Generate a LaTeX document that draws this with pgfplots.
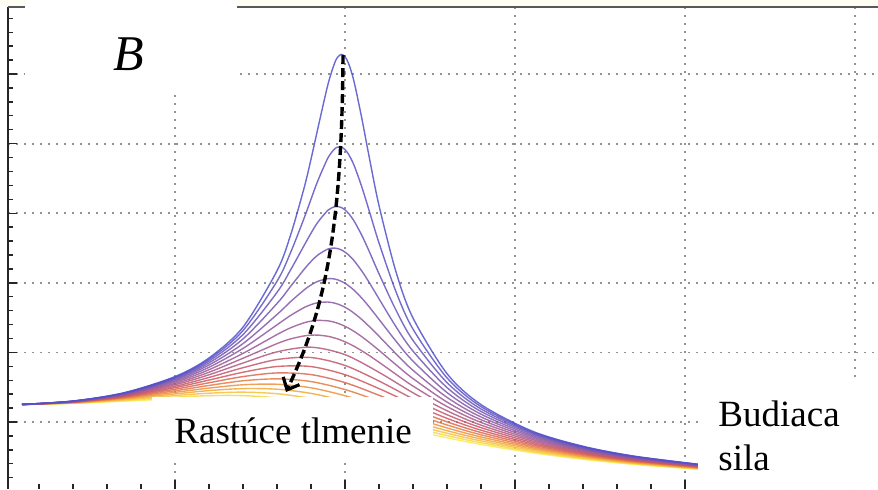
\documentclass[border=0pt]{standalone}
\usepackage{pgfplots}
\pgfplotsset{compat=1.18}
\usepackage{fontspec}
\setmainfont{Liberation Serif}
\usetikzlibrary{arrows.meta}
\definecolor{c0}{RGB}{80,80,205}
\definecolor{c1}{RGB}{92,82,196}
\definecolor{c2}{RGB}{104,84,188}
\definecolor{c3}{RGB}{116,85,180}
\definecolor{c4}{RGB}{128,87,171}
\definecolor{c5}{RGB}{140,88,162}
\definecolor{c6}{RGB}{152,88,152}
\definecolor{c7}{RGB}{166,88,139}
\definecolor{c8}{RGB}{180,88,124}
\definecolor{c9}{RGB}{194,88,108}
\definecolor{c10}{RGB}{208,88,93}
\definecolor{c11}{RGB}{220,100,80}
\definecolor{c12}{RGB}{230,122,68}
\definecolor{c13}{RGB}{238,145,58}
\definecolor{c14}{RGB}{243,168,55}
\definecolor{c15}{RGB}{245,192,60}
\definecolor{c16}{RGB}{247,214,66}
\definecolor{c17}{RGB}{248,235,80}
\begin{document}
\begin{tikzpicture}
\useasboundingbox (-4pt,0pt) rectangle (435pt,244.5pt);
\fill[white] (-4pt,0pt) rectangle (435pt,244.5pt);
\fill[yellow!5] (-4pt,241.6pt) rectangle (435pt,244.5pt);
\begin{axis}[
  scale only axis, width=435pt, height=241pt,
  xmin=0.00882, xmax=2.5676, ymin=0.0299, ymax=5.5701,
  axis line style={draw=none},
  xtick={0.5,1,1.5,2,2.5}, ytick={0.8,1.6,2.4,3.2,4.0,4.8},
  minor xtick={0.1,0.2,...,2.5}, minor ytick={0.16,0.32,...,5.5},
  xticklabels={}, yticklabels={},
  xtick pos=bottom, ytick pos=left, tick align=inside,
  major tick length=4.5pt, minor tick length=2.5pt,
  tick style={black!85, line width=0.7pt},
  grid=major,
  major grid style={gray!85, line width=0.9pt, dash pattern=on 0.9pt off 3.1pt},
  clip=false,
  every axis plot/.append style={line width=0.7pt, smooth, no marks, opacity=0.85},
]
\draw[black!85, line width=0.9pt] (rel axis cs:0,0) -- (rel axis cs:0,1);
\draw[gray!70!black, line width=1pt] (rel axis cs:0,1) -- (rel axis cs:1,1);

\addplot[c17] coordinates {(0.05,1.001) (0.2,1.014) (0.35,1.040) (0.5,1.067) (0.6,1.075) (0.7,1.066) (0.8,1.032) (0.9,0.971) (1.0,0.889) (1.1,0.797) (1.2,0.704) (1.3,0.619) (1.4,0.542) (1.55,0.447) (1.7,0.372) (1.85,0.313) (2.038,0.257)};
\addplot[c16] coordinates {(0.05,1.001) (0.2,1.017) (0.35,1.048) (0.5,1.085) (0.6,1.103) (0.7,1.103) (0.8,1.077) (0.9,1.018) (1.0,0.934) (1.1,0.836) (1.2,0.737) (1.3,0.644) (1.4,0.562) (1.55,0.460) (1.7,0.381) (1.85,0.320) (2.038,0.261)};
\addplot[c15] coordinates {(0.05,1.001) (0.2,1.019) (0.35,1.056) (0.5,1.104) (0.6,1.131) (0.7,1.143) (0.8,1.125) (0.9,1.071) (1.0,0.984) (1.1,0.879) (1.2,0.772) (1.3,0.671) (1.4,0.583) (1.55,0.474) (1.7,0.391) (1.85,0.326) (2.038,0.265)};
\addplot[c14] coordinates {(0.05,1.001) (0.2,1.021) (0.35,1.064) (0.5,1.123) (0.6,1.161) (0.7,1.184) (0.8,1.177) (0.9,1.129) (1.0,1.040) (1.1,0.927) (1.2,0.810) (1.3,0.700) (1.4,0.605) (1.55,0.489) (1.7,0.400) (1.85,0.333) (2.038,0.269)};
\addplot[c13] coordinates {(0.05,1.001) (0.2,1.024) (0.35,1.072) (0.5,1.141) (0.6,1.190) (0.7,1.228) (0.8,1.234) (0.9,1.193) (1.0,1.102) (1.1,0.981) (1.2,0.852) (1.3,0.732) (1.4,0.628) (1.55,0.504) (1.7,0.410) (1.85,0.339) (2.038,0.274)};
\addplot[c12] coordinates {(0.05,1.001) (0.2,1.026) (0.35,1.079) (0.5,1.159) (0.6,1.220) (0.7,1.274) (0.8,1.296) (0.9,1.265) (1.0,1.173) (1.1,1.040) (1.2,0.898) (1.3,0.766) (1.4,0.653) (1.55,0.519) (1.7,0.420) (1.85,0.346) (2.038,0.278)};
\addplot[c11] coordinates {(0.05,1.001) (0.2,1.028) (0.35,1.086) (0.5,1.177) (0.6,1.251) (0.7,1.322) (0.8,1.364) (0.9,1.345) (1.0,1.253) (1.1,1.107) (1.2,0.949) (1.3,0.802) (1.4,0.679) (1.55,0.535) (1.7,0.430) (1.85,0.353) (2.038,0.282)};
\addplot[c10] coordinates {(0.05,1.001) (0.2,1.029) (0.35,1.093) (0.5,1.195) (0.6,1.282) (0.7,1.372) (0.8,1.438) (0.9,1.437) (1.0,1.344) (1.1,1.184) (1.2,1.005) (1.3,0.842) (1.4,0.706) (1.55,0.551) (1.7,0.440) (1.85,0.359) (2.038,0.286)};
\addplot[c9] coordinates {(0.05,1.001) (0.2,1.031) (0.35,1.099) (0.5,1.211) (0.6,1.312) (0.7,1.424) (0.8,1.518) (0.9,1.541) (1.0,1.450) (1.1,1.271) (1.2,1.067) (1.3,0.884) (1.4,0.735) (1.55,0.567) (1.7,0.450) (1.85,0.365) (2.038,0.290)};
\addplot[c8] coordinates {(0.05,1.001) (0.2,1.033) (0.35,1.105) (0.5,1.228) (0.6,1.343) (0.7,1.478) (0.8,1.606) (0.9,1.660) (1.0,1.574) (1.1,1.371) (1.2,1.136) (1.3,0.929) (1.4,0.764) (1.55,0.584) (1.7,0.459) (1.85,0.371) (2.038,0.293)};
\addplot[c7] coordinates {(0.05,1.001) (0.2,1.034) (0.35,1.110) (0.5,1.243) (0.6,1.372) (0.7,1.533) (0.8,1.701) (0.84,1.755) (0.88,1.790) (0.9,1.798) (0.92,1.799) (0.95,1.785) (0.97,1.765) (0.98,1.753) (0.99,1.738) (1.0,1.722) (1.01,1.704) (1.02,1.684) (1.03,1.663) (1.05,1.617) (1.07,1.567) (1.1,1.487) (1.15,1.348) (1.2,1.213) (1.3,0.978) (1.4,0.795) (1.55,0.600) (1.7,0.469) (1.85,0.377) (2.038,0.297)};
\addplot[c6] coordinates {(0.05,1.001) (0.2,1.036) (0.35,1.115) (0.5,1.258) (0.6,1.401) (0.7,1.589) (0.8,1.805) (0.84,1.883) (0.88,1.941) (0.9,1.959) (0.92,1.968) (0.95,1.963) (0.97,1.946) (0.98,1.933) (0.99,1.918) (1.0,1.900) (1.01,1.880) (1.02,1.857) (1.03,1.833) (1.05,1.779) (1.07,1.719) (1.1,1.624) (1.15,1.458) (1.2,1.299) (1.3,1.029) (1.4,0.826) (1.55,0.616) (1.7,0.478) (1.85,0.383) (2.038,0.300)};
\addplot[c5] coordinates {(0.05,1.001) (0.2,1.037) (0.35,1.120) (0.5,1.272) (0.6,1.429) (0.7,1.646) (0.8,1.917) (0.84,2.025) (0.88,2.116) (0.9,2.149) (0.92,2.171) (0.95,2.179) (0.97,2.166) (0.98,2.154) (0.99,2.138) (1.0,2.119) (1.01,2.096) (1.02,2.070) (1.03,2.041) (1.05,1.976) (1.07,1.903) (1.1,1.786) (1.15,1.584) (1.2,1.394) (1.3,1.083) (1.4,0.858) (1.55,0.632) (1.7,0.487) (1.85,0.388) (2.038,0.303)};
\addplot[c4] coordinates {(0.05,1.002) (0.2,1.038) (0.35,1.124) (0.5,1.285) (0.6,1.455) (0.7,1.701) (0.8,2.036) (0.84,2.184) (0.88,2.319) (0.9,2.375) (0.92,2.417) (0.95,2.448) (0.97,2.443) (0.98,2.432) (0.99,2.416) (1.0,2.395) (1.01,2.368) (1.02,2.337) (1.03,2.302) (1.05,2.221) (1.07,2.129) (1.1,1.980) (1.15,1.729) (1.2,1.500) (1.3,1.139) (1.4,0.890) (1.55,0.647) (1.7,0.495) (1.85,0.393) (2.038,0.306)};
\addplot[c3] coordinates {(0.05,1.002) (0.2,1.039) (0.35,1.128) (0.5,1.296) (0.6,1.479) (0.7,1.755) (0.8,2.162) (0.84,2.359) (0.88,2.556) (0.9,2.645) (0.92,2.719) (0.95,2.789) (0.97,2.799) (0.98,2.792) (0.99,2.777) (1.0,2.753) (1.01,2.722) (1.02,2.684) (1.03,2.638) (1.05,2.532) (1.07,2.411) (1.1,2.216) (1.15,1.895) (1.2,1.615) (1.3,1.196) (1.4,0.921) (1.55,0.662) (1.7,0.503) (1.85,0.398) (2.038,0.309)};
\addplot[c2] coordinates {(0.05,1.002) (0.2,1.040) (0.35,1.131) (0.5,1.306) (0.6,1.501) (0.7,1.805) (0.8,2.290) (0.84,2.549) (0.88,2.831) (0.9,2.970) (0.92,3.096) (0.95,3.235) (0.97,3.275) (0.98,3.276) (0.99,3.264) (1.0,3.238) (1.01,3.200) (1.02,3.149) (1.03,3.088) (1.05,2.941) (1.07,2.772) (1.1,2.504) (1.15,2.085) (1.2,1.738) (1.3,1.253) (1.4,0.950) (1.55,0.675) (1.7,0.510) (1.85,0.402) (2.038,0.311)};
\addplot[c1] coordinates {(0.05,1.002) (0.2,1.040) (0.35,1.134) (0.5,1.315) (0.6,1.520) (0.7,1.851) (0.8,2.418) (0.84,2.749) (0.88,3.146) (0.9,3.361) (0.92,3.572) (0.95,3.837) (0.97,3.941) (0.98,3.961) (0.99,3.958) (1.0,3.931) (1.01,3.880) (1.02,3.808) (1.03,3.717) (1.05,3.495) (1.07,3.243) (1.1,2.858) (1.15,2.297) (1.2,1.867) (1.3,1.307) (1.4,0.977) (1.55,0.686) (1.7,0.516) (1.85,0.405) (2.038,0.313)};
\addplot[c0] coordinates {(0.05,1.002) (0.2,1.041) (0.35,1.136) (0.5,1.322) (0.6,1.536) (0.7,1.891) (0.8,2.538) (0.84,2.950) (0.88,3.495) (0.9,3.821) (0.92,4.172) (0.95,4.683) (0.97,4.931) (0.98,5.001) (0.99,5.025) (1.0,5.000) (1.01,4.926) (1.02,4.809) (1.03,4.655) (1.05,4.279) (1.07,3.869) (1.1,3.288) (1.15,2.525) (1.2,1.995) (1.3,1.356) (1.4,1.000) (1.55,0.696) (1.7,0.521) (1.85,0.408) (2.038,0.315)};

\draw[black, line width=1.7pt, dash pattern=on 4.5pt off 2pt, -{Straight Barb[length=5pt,width=9pt,line width=1.6pt]}]
  (axis cs:0.9941,5.018) .. controls (axis cs:0.9912,3.007) and (axis cs:0.9412,2.087) .. (axis cs:0.8265,1.145);

\fill[white] (axis cs:0.0588,5.72) rectangle (axis cs:0.6824,4.593);
\fill[white] (axis cs:0.4324,1.0874) rectangle (axis cs:1.2588,0.3287);
\fill[white] (axis cs:2.0382,1.3057) rectangle (axis cs:2.5676,0.0299);

\node[anchor=base west, inner sep=0pt, font=\fontsize{25}{30}\selectfont\itshape] at (axis cs:0.3176,4.846) {B};
\node[anchor=base west, inner sep=0pt, font=\fontsize{18.5}{22}\selectfont] at (axis cs:0.4971,0.5586) {Rastúce tlmenie};
\node[anchor=base west, inner sep=0pt, font=\fontsize{18.5}{22}\selectfont] at (axis cs:2.0971,0.754) {Budiaca};
\node[anchor=base west, inner sep=0pt, font=\fontsize{18.5}{22}\selectfont] at (axis cs:2.0971,0.2483) {sila};
\end{axis}
\end{tikzpicture}
\end{document}
